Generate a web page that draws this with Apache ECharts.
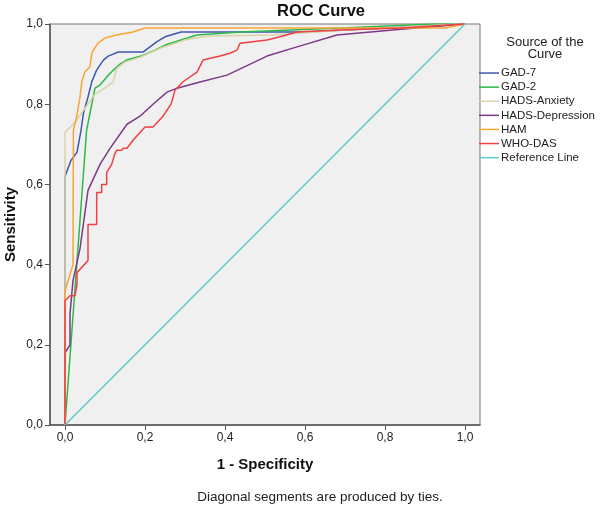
<!DOCTYPE html>
<html>
<head>
<meta charset="utf-8">
<script src="https://cdn.jsdelivr.net/npm/echarts@6/dist/echarts.min.js"></script>
<style>
html,body{margin:0;padding:0;background:#fff;}
#chart{width:600px;height:507px;}
</style>
</head>
<body>
<div id="chart"></div>
<script>
// Tick values
var xTicks = [0, 0.2, 0.4, 0.6, 0.8, 1.0];
var yTicks = [0, 0.2, 0.4, 0.6, 0.8, 1.0];

// Series names
var seriesNames = ['GAD-7', 'GAD-2', 'HADS-Anxiety', 'HADS-Depression', 'HAM', 'WHO-DAS', 'Reference Line'];

// ROC points [1 - specificity, sensitivity]
var gad7 = [[0,0],[0,0.62],[0.015,0.66],[0.03,0.68],[0.04,0.735],[0.046,0.777],[0.058,0.82],[0.067,0.856],[0.079,0.885],[0.096,0.91],[0.108,0.92],[0.133,0.93],[0.195,0.93],[0.23,0.956],[0.25,0.968],[0.29,0.98],[0.6,0.98],[1,1]];
var gad2 = [[0,0],[0.054,0.735],[0.075,0.84],[0.087,0.8475],[0.1125,0.877],[0.1375,0.9],[0.154,0.91],[0.19,0.92],[0.225,0.935],[0.25,0.9475],[0.29,0.96],[0.33,0.9725],[0.44,0.98],[0.69,0.99],[0.92,1],[1,1]];
var hadsAnx = [[0,0],[0,0.73],[0.025,0.755],[0.05,0.79],[0.075,0.825],[0.1,0.84],[0.12,0.855],[0.13,0.89],[0.15,0.905],[0.19,0.918],[0.24,0.94],[0.3,0.96],[0.36,0.97],[0.52,0.9725],[0.7,0.985],[0.99,1],[1,1]];
var hadsDep = [[0,0],[0,0.18],[0.0125,0.2],[0.0125,0.277],[0.02,0.36],[0.0375,0.44],[0.0575,0.585],[0.0875,0.65],[0.1125,0.69],[0.155,0.75],[0.1875,0.77],[0.22,0.8],[0.255,0.83],[0.28,0.84],[0.34,0.856],[0.405,0.8725],[0.505,0.92],[0.58,0.943],[0.68,0.9725],[0.84,0.987],[1,1]];
var ham = [[0,0],[0,0.335],[0.02,0.4],[0.021,0.735],[0.029,0.768],[0.0375,0.818],[0.042,0.856],[0.05,0.881],[0.0625,0.893],[0.067,0.927],[0.071,0.935],[0.083,0.953],[0.1,0.965],[0.129,0.9725],[0.17,0.98],[0.2,0.99],[0.95,0.99],[1,1]];
var whoDas = [[0,0],[0,0.31],[0.0125,0.3225],[0.025,0.3225],[0.03,0.35],[0.03,0.38],[0.0575,0.41],[0.0575,0.5],[0.0792,0.5],[0.0792,0.58],[0.0917,0.58],[0.0917,0.6],[0.1042,0.6],[0.1042,0.63],[0.1167,0.65],[0.125,0.6775],[0.1292,0.685],[0.1417,0.685],[0.1458,0.69],[0.155,0.69],[0.17,0.71],[0.2,0.743],[0.22,0.743],[0.245,0.77],[0.265,0.8],[0.275,0.835],[0.295,0.856],[0.33,0.88],[0.345,0.91],[0.3875,0.92],[0.4125,0.927],[0.43,0.935],[0.4375,0.952],[0.505,0.96],[0.5375,0.968],[0.58,0.98],[0.69,0.985],[0.84,0.99],[1,1]];
var refLine = [[0,0],[1,1]];

var seriesData = [gad7, gad2, hadsAnx, hadsDep, ham, whoDas, refLine];
var colors = ['#3e58ac', '#2eb848', '#d8d4a8', '#7c3a86', '#f7a535', '#ef4046', '#62c8c8'];

var FONT = 'Liberation Sans, Arial, sans-serif';
function fmt(v) { return Number(v).toFixed(1).replace('.', ','); }

var chart = echarts.init(document.getElementById('chart'), null, {renderer: 'canvas'});
var option = {
  animation: false,
  backgroundColor: '#ffffff',
  title: [
    {text: 'ROC Curve', left: 316, top: -2, textAlign: 'center',
     textStyle: {fontFamily: FONT, fontSize: 16.5, fontWeight: 'bold', color: '#111'}},
    {text: 'Source of the\nCurve', left: 540, top: 31, textAlign: 'center',
     textStyle: {fontFamily: FONT, fontSize: 13, fontWeight: 'normal', color: '#222', lineHeight: 12.5}},
    {text: 'Diagonal segments are produced by ties.', left: 315, top: 485, textAlign: 'center',
     textStyle: {fontFamily: FONT, fontSize: 13.5, fontWeight: 'normal', color: '#222'}}
  ],
  legend: {
    orient: 'vertical',
    left: 479,
    top: 66,
    padding: 0,
    itemGap: 0,
    itemWidth: 20,
    itemHeight: 1.5,
    icon: 'rect',
    data: seriesNames,
    textStyle: {fontFamily: FONT, fontSize: 11.5, color: '#222', lineHeight: 14.1, padding: [0, 0, 0, -3]}
  },
  grid: {
    left: 50, right: 120, top: 24, bottom: 82,
    outerBoundsMode: 'none',
    containLabel: false,
    show: true, backgroundColor: '#f0f0f0', borderColor: '#777', borderWidth: 1
  },
  xAxis: {
    type: 'value',
    min: -0.0375, max: 1.0375,
    name: '1 - Specificity',
    nameLocation: 'middle',
    nameGap: 32,
    nameMoveOverlap: false,
    nameTextStyle: {fontFamily: FONT, fontSize: 15, fontWeight: 'bold', color: '#111'},
    axisLine: {show: true, onZero: false, lineStyle: {color: '#555', width: 1.5}},
    axisTick: {show: true, length: 5, inside: false, customValues: xTicks, lineStyle: {color: '#555'}},
    axisLabel: {customValues: xTicks, margin: 7, formatter: fmt, fontFamily: FONT, fontSize: 12, color: '#222'},
    splitLine: {show: false}
  },
  yAxis: {
    type: 'value',
    min: 0, max: 1, interval: 0.2,
    name: 'Sensitivity',
    nameLocation: 'middle',
    nameGap: 32,
    nameMoveOverlap: false,
    nameTextStyle: {fontFamily: FONT, fontSize: 15, fontWeight: 'bold', color: '#111'},
    axisLine: {show: true, onZero: false, lineStyle: {color: '#555', width: 1.5}},
    axisTick: {show: true, length: 5, inside: false, lineStyle: {color: '#555'}},
    axisLabel: {margin: 7, formatter: fmt, fontFamily: FONT, fontSize: 12, color: '#222'},
    splitLine: {show: false}
  },
  series: seriesNames.map(function (n, i) {
    return {
      name: n,
      type: 'line',
      data: seriesData[i],
      showSymbol: false,
      symbol: 'none',
      color: colors[i],
      lineStyle: {color: colors[i], width: 1.5},
      emphasis: {disabled: true},
      z: 2 + i
    };
  })
};
chart.setOption(option);
</script>
</body>
</html>
